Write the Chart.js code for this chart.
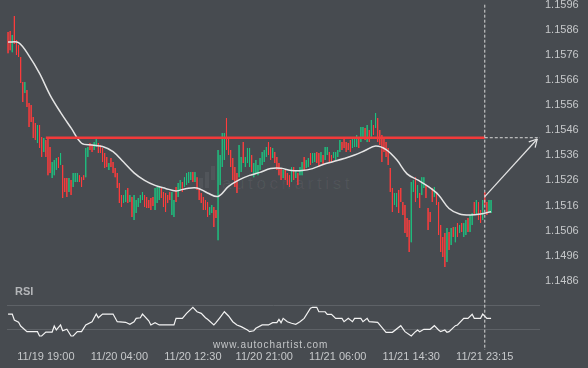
<!DOCTYPE html>
<html>
<head>
<meta charset="utf-8">
<script src="https://cdn.jsdelivr.net/npm/chart.js@4.4.0/dist/chart.umd.min.js"></script>
<style>
    html, body { margin: 0; padding: 0; background: #474b50; }
    #wrap { position: relative; width: 588px; height: 368px; overflow: hidden; }
    #chart { position: absolute; left: 0; top: 0; }
    .txt { position: absolute; font-family: "Liberation Sans", Arial, sans-serif; white-space: nowrap; }
    #mark { left: 222px; top: 174px; font-size: 17px; letter-spacing: 3.6px; color: rgba(255,255,255,0.06); }
    .logo { position: absolute; width: 4px; background: rgba(255,255,255,0.06); }
    #rsiTitle { left: 15px; top: 285px; font-size: 11px; font-weight: bold; color: #b4b6b9; }
    #site { left: 213px; top: 339px; font-size: 10px; letter-spacing: 0.9px; color: #c4c6c8; }
</style>
</head>
<body>
<div id="wrap">
    <div class="logo" style="left:199px; top:178px; height:10px;"></div>
    <div class="logo" style="left:205px; top:172px; height:16px;"></div>
    <div class="logo" style="left:211px; top:166px; height:14px;"></div>
    <div class="txt" id="mark">autochartist</div>
    <canvas id="chart" width="588" height="368"></canvas>
    <div class="txt" id="rsiTitle">RSI</div>
    <div class="txt" id="site">www.autochartist.com</div>
</div>
<script>
const BULL = '#1fc07f';
const BEAR = '#ff3d3d';
const LEVEL = '#f23a3a';
const LINE = '#e4e4e4';
const TEXT = '#c6c8ca';
const FONT = { family: "'Liberation Sans', Arial, sans-serif", size: 11 };

// x axis: candle index, one candle per 15 minutes
const xTickIdx    = [18, 53, 88, 122, 157, 192, 227];
const xTickLabels = ['11/19 19:00', '11/20 04:00', '11/20 12:30', '11/20 21:00', '11/21 06:00', '11/21 14:30', '11/21 23:15'];
const priceTicks  = [1.1486, 1.1496, 1.1506, 1.1516, 1.1526, 1.1536, 1.1546, 1.1556, 1.1566, 1.1576, 1.1586, 1.1596];
const rsiTicks    = [40, 60];

const X_MIN = -0.5, X_MAX = 253.3;
const PRICE_MIN = 1.145843, PRICE_MAX = 1.159787;
const RSI_MIN = 23.33, RSI_MAX = 315;

// [open, high, low, close]
const candles = [
    [1.15851,1.15851,1.15767,1.15767],[1.15855,1.15855,1.15779,1.15779],[1.15771,1.15839,1.15771,1.15839],[1.15915,1.15915,1.15803,1.15803],[1.15819,1.15819,1.15760,1.15760],
    [1.15799,1.15799,1.15752,1.15752],[1.15752,1.15752,1.15648,1.15648],[1.15652,1.15652,1.15572,1.15572],[1.15608,1.15652,1.15608,1.15652],[1.15620,1.15620,1.15552,1.15552],
    [1.15568,1.15568,1.15473,1.15473],[1.15560,1.15560,1.15493,1.15493],[1.15513,1.15513,1.15429,1.15429],[1.15489,1.15489,1.15421,1.15421],[1.15409,1.15481,1.15409,1.15481],
    [1.15481,1.15481,1.15389,1.15389],[1.15433,1.15433,1.15353,1.15353],[1.15373,1.15429,1.15373,1.15429],[1.15421,1.15421,1.15353,1.15353],[1.15429,1.15429,1.15281,1.15281],
    [1.15393,1.15393,1.15289,1.15289],[1.15270,1.15333,1.15270,1.15333],[1.15281,1.15341,1.15281,1.15341],[1.15301,1.15349,1.15301,1.15349],[1.15353,1.15353,1.15309,1.15309],
    [1.15321,1.15369,1.15321,1.15369],[1.15321,1.15321,1.15190,1.15190],[1.15270,1.15270,1.15214,1.15214],[1.15270,1.15270,1.15194,1.15194],[1.15214,1.15270,1.15214,1.15270],
    [1.15262,1.15262,1.15202,1.15202],[1.15234,1.15289,1.15234,1.15289],[1.15254,1.15289,1.15254,1.15289],[1.15254,1.15289,1.15254,1.15289],[1.15281,1.15281,1.15254,1.15254],
    [1.15273,1.15273,1.15234,1.15234],[1.15281,1.15281,1.15262,1.15262],[1.15273,1.15389,1.15273,1.15389],[1.15353,1.15393,1.15353,1.15393],[1.15409,1.15409,1.15381,1.15381],
    [1.15401,1.15401,1.15373,1.15373],[1.15381,1.15413,1.15381,1.15413],[1.15393,1.15429,1.15393,1.15429],[1.15409,1.15409,1.15369,1.15369],[1.15401,1.15401,1.15369,1.15369],
    [1.15389,1.15389,1.15333,1.15333],[1.15369,1.15369,1.15309,1.15309],[1.15353,1.15353,1.15313,1.15313],[1.15301,1.15329,1.15301,1.15329],[1.15349,1.15349,1.15313,1.15313],
    [1.15333,1.15333,1.15289,1.15289],[1.15309,1.15309,1.15273,1.15273],[1.15289,1.15289,1.15230,1.15230],[1.15250,1.15250,1.15170,1.15170],[1.15202,1.15202,1.15154,1.15154],
    [1.15170,1.15202,1.15170,1.15202],[1.15174,1.15222,1.15174,1.15222],[1.15230,1.15230,1.15170,1.15170],[1.15174,1.15202,1.15174,1.15202],[1.15194,1.15194,1.15114,1.15114],
    [1.15102,1.15202,1.15102,1.15202],[1.15130,1.15182,1.15130,1.15182],[1.15154,1.15190,1.15154,1.15190],[1.15170,1.15202,1.15170,1.15202],[1.15182,1.15214,1.15182,1.15214],
    [1.15202,1.15202,1.15154,1.15154],[1.15194,1.15194,1.15150,1.15150],[1.15182,1.15182,1.15150,1.15150],[1.15190,1.15190,1.15142,1.15142],[1.15194,1.15194,1.15158,1.15158],
    [1.15142,1.15230,1.15142,1.15230],[1.15170,1.15234,1.15170,1.15234],[1.15182,1.15234,1.15182,1.15234],[1.15230,1.15230,1.15190,1.15190],[1.15214,1.15214,1.15154,1.15154],
    [1.15210,1.15210,1.15134,1.15134],[1.15202,1.15202,1.15170,1.15170],[1.15214,1.15214,1.15182,1.15182],[1.15122,1.15214,1.15122,1.15214],[1.15114,1.15182,1.15114,1.15182],
    [1.15234,1.15234,1.15174,1.15174],[1.15194,1.15250,1.15194,1.15250],[1.15222,1.15262,1.15222,1.15262],[1.15254,1.15254,1.15214,1.15214],[1.15234,1.15273,1.15234,1.15273],
    [1.15242,1.15289,1.15242,1.15289],[1.15250,1.15293,1.15250,1.15293],[1.15262,1.15293,1.15262,1.15293],[1.15293,1.15293,1.15254,1.15254],[1.15254,1.15293,1.15254,1.15293],
    [1.15273,1.15273,1.15222,1.15222],[1.15230,1.15230,1.15182,1.15182],[1.15210,1.15210,1.15170,1.15170],[1.15194,1.15194,1.15142,1.15142],[1.15182,1.15182,1.15142,1.15142],
    [1.15174,1.15174,1.15114,1.15114],[1.15122,1.15154,1.15122,1.15154],[1.15130,1.15162,1.15130,1.15162],[1.15154,1.15154,1.15074,1.15074],[1.15142,1.15142,1.15110,1.15110],
    [1.15022,1.15381,1.15022,1.15381],[1.15242,1.15361,1.15242,1.15361],[1.15313,1.15449,1.15313,1.15449],[1.15341,1.15449,1.15341,1.15449],[1.15509,1.15509,1.15381,1.15381],
    [1.15429,1.15429,1.15361,1.15361],[1.15381,1.15381,1.15313,1.15313],[1.15349,1.15349,1.15262,1.15262],[1.15313,1.15313,1.15234,1.15234],[1.15289,1.15289,1.15210,1.15210],
    [1.15273,1.15401,1.15273,1.15401],[1.15293,1.15353,1.15293,1.15353],[1.15413,1.15413,1.15329,1.15329],[1.15313,1.15353,1.15313,1.15353],[1.15329,1.15389,1.15329,1.15389],
    [1.15313,1.15389,1.15313,1.15389],[1.15361,1.15361,1.15293,1.15293],[1.15273,1.15329,1.15273,1.15329],[1.15289,1.15341,1.15289,1.15341],[1.15281,1.15321,1.15281,1.15321],
    [1.15301,1.15349,1.15301,1.15349],[1.15321,1.15373,1.15321,1.15373],[1.15333,1.15381,1.15333,1.15381],[1.15353,1.15393,1.15353,1.15393],[1.15413,1.15413,1.15361,1.15361],
    [1.15393,1.15393,1.15341,1.15341],[1.15349,1.15389,1.15349,1.15389],[1.15373,1.15373,1.15329,1.15329],[1.15353,1.15353,1.15301,1.15301],[1.15329,1.15329,1.15281,1.15281],
    [1.15309,1.15309,1.15262,1.15262],[1.15270,1.15301,1.15270,1.15301],[1.15301,1.15301,1.15262,1.15262],[1.15289,1.15289,1.15242,1.15242],[1.15281,1.15281,1.15234,1.15234],
    [1.15254,1.15313,1.15254,1.15313],[1.15313,1.15313,1.15262,1.15262],[1.15270,1.15301,1.15270,1.15301],[1.15289,1.15289,1.15242,1.15242],[1.15281,1.15313,1.15281,1.15313],
    [1.15281,1.15333,1.15281,1.15333],[1.15353,1.15353,1.15301,1.15301],[1.15309,1.15341,1.15309,1.15341],[1.15313,1.15349,1.15313,1.15349],[1.15369,1.15369,1.15321,1.15321],
    [1.15329,1.15369,1.15329,1.15369],[1.15333,1.15369,1.15333,1.15369],[1.15373,1.15373,1.15329,1.15329],[1.15369,1.15369,1.15313,1.15313],[1.15333,1.15373,1.15333,1.15373],
    [1.15361,1.15361,1.15321,1.15321],[1.15341,1.15393,1.15341,1.15393],[1.15361,1.15393,1.15361,1.15393],[1.15373,1.15373,1.15329,1.15329],[1.15361,1.15361,1.15333,1.15333],
    [1.15349,1.15373,1.15349,1.15373],[1.15341,1.15373,1.15341,1.15373],[1.15353,1.15381,1.15353,1.15381],[1.15373,1.15421,1.15373,1.15421],[1.15413,1.15413,1.15381,1.15381],
    [1.15429,1.15429,1.15389,1.15389],[1.15413,1.15413,1.15373,1.15373],[1.15409,1.15409,1.15381,1.15381],[1.15421,1.15421,1.15373,1.15373],[1.15389,1.15429,1.15389,1.15429],
    [1.15393,1.15429,1.15393,1.15429],[1.15393,1.15441,1.15393,1.15441],[1.15429,1.15429,1.15389,1.15389],[1.15413,1.15473,1.15413,1.15473],[1.15429,1.15473,1.15429,1.15473],
    [1.15469,1.15469,1.15421,1.15421],[1.15413,1.15481,1.15413,1.15481],[1.15461,1.15461,1.15413,1.15413],[1.15429,1.15501,1.15429,1.15501],[1.15481,1.15481,1.15441,1.15441],
    [1.15469,1.15529,1.15469,1.15529],[1.15509,1.15509,1.15413,1.15413],[1.15461,1.15461,1.15401,1.15401],[1.15441,1.15441,1.15333,1.15333],[1.15429,1.15429,1.15373,1.15373],
    [1.15413,1.15413,1.15353,1.15353],[1.15389,1.15389,1.15321,1.15321],[1.15309,1.15309,1.15214,1.15214],[1.15230,1.15230,1.15134,1.15134],[1.15162,1.15210,1.15162,1.15210],
    [1.15154,1.15210,1.15154,1.15210],[1.15222,1.15222,1.15130,1.15130],[1.15230,1.15230,1.15174,1.15174],[1.15174,1.15174,1.15122,1.15122],[1.15162,1.15162,1.15050,1.15050],
    [1.15110,1.15110,1.15034,1.15034],[1.15102,1.15102,1.14975,1.14975],[1.15014,1.15254,1.15014,1.15254],[1.15214,1.15262,1.15214,1.15262],[1.15273,1.15273,1.15174,1.15174],
    [1.15190,1.15242,1.15190,1.15242],[1.15210,1.15210,1.15150,1.15150],[1.15202,1.15273,1.15202,1.15273],[1.15230,1.15273,1.15230,1.15273],[1.15242,1.15242,1.15190,1.15190],
    [1.15150,1.15150,1.15062,1.15062],[1.15134,1.15134,1.15094,1.15094],[1.15230,1.15230,1.15174,1.15174],[1.15194,1.15234,1.15194,1.15234],[1.15214,1.15214,1.15162,1.15162],
    [1.15174,1.15174,1.15042,1.15042],[1.15082,1.15082,1.14975,1.14975],[1.15034,1.15034,1.14955,1.14955],[1.15050,1.15050,1.14915,1.14915],[1.14935,1.15070,1.14935,1.15070],
    [1.15054,1.15054,1.14983,1.14983],[1.15003,1.15070,1.15003,1.15070],[1.15074,1.15074,1.15034,1.15034],[1.15014,1.15074,1.15014,1.15074],[1.15090,1.15090,1.15034,1.15034],
    [1.15050,1.15082,1.15050,1.15082],[1.15090,1.15090,1.15054,1.15054],[1.15034,1.15090,1.15034,1.15090],[1.15042,1.15102,1.15042,1.15102],[1.15110,1.15110,1.15054,1.15054],
    [1.15054,1.15122,1.15054,1.15122],[1.15082,1.15130,1.15082,1.15130],[1.15174,1.15174,1.15122,1.15122],[1.15122,1.15182,1.15122,1.15182],[1.15174,1.15174,1.15102,1.15102],
    [1.15142,1.15142,1.15090,1.15090],[1.15102,1.15182,1.15102,1.15182],[1.15214,1.15214,1.15162,1.15162],[1.15174,1.15174,1.15122,1.15122],[1.15134,1.15182,1.15134,1.15182],
    [1.15130,1.15182,1.15130,1.15182],
];

// moving average, sampled every 5 candles
const maIdx = [0, 5, 10, 15, 20, 25, 30, 35, 40, 45, 50, 55, 60, 65, 70, 75, 80, 85, 90, 95, 100, 105, 110, 115,
               120, 125, 130, 135, 140, 145, 150, 155, 160, 165, 170, 175, 180, 185, 190, 195, 200, 205, 210, 215, 220, 225, 230];
const maVal = [1.15811, 1.15809, 1.15756, 1.15686, 1.15600, 1.15531, 1.15469, 1.15408, 1.15401, 1.15395, 1.15375, 1.15333,
               1.15290, 1.15260, 1.15240, 1.15228, 1.15218, 1.15228, 1.15230, 1.15210, 1.15196, 1.15236, 1.15262, 1.15280,
               1.15292, 1.15307, 1.15308, 1.15299, 1.15299, 1.15307, 1.15323, 1.15335, 1.15347, 1.15361, 1.15379, 1.15397,
               1.15383, 1.15343, 1.15286, 1.15262, 1.15236, 1.15202, 1.15148, 1.15126, 1.15122, 1.15126, 1.15135];

const rsiIdx = [0, 2, 3, 5, 6, 9, 14, 15, 16, 18, 21, 22, 23, 25, 26, 28, 30, 31, 33, 35, 37, 40, 42, 43, 45, 50, 52, 56, 58,
                60, 61, 63, 64, 67, 68, 70, 72, 79, 80, 83, 85, 88, 90, 92, 94, 95, 98, 99, 101, 103, 105, 107, 109, 111,
                114, 115, 117, 118, 121, 124, 126, 128, 129, 130, 131, 133, 135, 137, 139, 141, 144, 145, 147, 148, 151,
                152, 154, 156, 159, 160, 162, 164, 165, 168, 169, 171, 172, 176, 178, 180, 183, 187, 189, 192, 194, 195,
                196, 198, 201, 203, 205, 206, 208, 209, 210, 213, 214, 217, 219, 221, 222, 225, 226, 228, 230];
const rsiVal = [53.3, 53.3, 48.3, 46.4, 43.3, 38.6, 38.6, 35, 35, 38.3, 38.3, 43.3, 40, 44.2, 39.4, 40.6, 35, 35, 38.6, 38.6,
                44.2, 46.9, 53.3, 50.2, 53.3, 53.3, 46.9, 46.4, 44.7, 46.9, 49.7, 50.2, 53.3, 47.7, 44.2, 46.1, 44.2, 44.2,
                49.7, 49.7, 53.9, 58.9, 55.2, 53.9, 50.2, 48.9, 44.2, 46.1, 50.6, 55.2, 51.7, 46.9, 44.2, 42.8, 40, 38.6,
                39.4, 41.4, 44.2, 44.2, 46.1, 46.1, 48.9, 46.1, 49.7, 46.9, 45.6, 44.7, 46.9, 49.7, 58.1, 58.9, 58.9, 55.2,
                55.2, 53.1, 53.1, 49.7, 49.7, 46.9, 49.7, 46.9, 49.7, 49.7, 46.9, 49.7, 46.9, 46.4, 42.2, 38.1, 38.1, 43.6,
                38.6, 35, 38.6, 40, 38.6, 40.6, 40.6, 43.6, 40, 38.6, 40, 38.1, 38.6, 43.6, 44.2, 49.7, 49.7, 53.1, 49.7,
                49.7, 53.3, 49.7, 49.7];

// resistance level and the projected move
const levelPrice = 1.1543;
const levelFrom = 18, levelTo = 227;
const signalIdx = 227;
const arrowFrom = { x: 227, y: 1.15195 };
const arrowTo   = { x: 252, y: 1.15425 };

const candleColors = candles.map(c => c[3] >= c[0] ? BULL : BEAR);

const arrowHead = {
    id: 'arrowHead',
    afterDatasetsDraw(chart) {
        const meta = chart.getDatasetMeta(chart.data.datasets.findIndex(d => d.label === 'arrow'));
        const [a, b] = meta.data;
        const ang = Math.atan2(b.y - a.y, b.x - a.x);
        const c = chart.ctx;
        c.save();
        c.strokeStyle = LINE;
        c.lineWidth = 1.2;
        c.beginPath();
        [-0.5, 0.5].forEach(d => {
            c.moveTo(b.x, b.y);
            c.lineTo(b.x - 9 * Math.cos(ang + d), b.y - 9 * Math.sin(ang + d));
        });
        c.stroke();
        c.restore();
    },
};

function fixedTicks(values) {
    return scale => { scale.ticks = values.map(v => ({ value: v })); };
}

new Chart(document.getElementById('chart').getContext('2d'), {
    type: 'line',
    data: {
        datasets: [
            {
                type: 'bar', label: 'wick', order: 10, grouped: false, yAxisID: 'y',
                data: candles.map((c, i) => ({ x: i, y: [c[2], c[1]] })),
                backgroundColor: candleColors, barThickness: 1, inflateAmount: 0, borderWidth: 0,
            },
            {
                type: 'bar', label: 'body', order: 9, grouped: false, yAxisID: 'y',
                data: candles.map((c, i) => ({ x: i, y: [Math.min(c[0], c[3]), Math.max(c[0], c[3])] })),
                backgroundColor: candleColors, barThickness: 1, inflateAmount: 0, borderWidth: 0,
            },
            {
                label: 'ma', order: 5, yAxisID: 'y',
                data: maIdx.map((x, i) => ({ x, y: maVal[i] })),
                borderColor: LINE, borderWidth: 1.5, pointRadius: 0, tension: 0.35,
            },
            {
                label: 'level', order: 4, yAxisID: 'y',
                data: [{ x: levelFrom, y: levelPrice }, { x: levelTo, y: levelPrice }],
                borderColor: LEVEL, borderWidth: 2.5, pointRadius: 0,
            },
            {
                label: 'levelExt', order: 3, yAxisID: 'y',
                data: [{ x: levelTo, y: levelPrice }, { x: X_MAX, y: levelPrice }],
                borderColor: '#d8d8d8', borderWidth: 1, borderDash: [3, 2], pointRadius: 0,
            },
            {
                label: 'signal', order: 3, yAxisID: 'y',
                data: [{ x: signalIdx, y: priceTicks[priceTicks.length - 1] }, { x: signalIdx, y: PRICE_MIN }],
                borderColor: '#d8d8d8', borderWidth: 1, borderDash: [3, 2], pointRadius: 0,
            },
            {
                label: 'arrow', order: 2, yAxisID: 'y',
                data: [arrowFrom, arrowTo],
                borderColor: LINE, borderWidth: 1.2, pointRadius: 0,
            },
            {
                label: 'rsi', order: 1, yAxisID: 'rsi',
                data: rsiIdx.map((x, i) => ({ x, y: rsiVal[i] })),
                borderColor: '#f2f2f2', borderWidth: 1.2, pointRadius: 0, tension: 0,
            },
        ],
    },
    options: {
        responsive: false,
        animation: false,
        devicePixelRatio: 1,
        layout: { padding: { left: 7, top: 0, right: 0, bottom: 0 } },
        plugins: { legend: { display: false }, tooltip: { enabled: false } },
        scales: {
            x: {
                type: 'linear', min: X_MIN, max: X_MAX, offset: false,
                grid: { display: false, drawTicks: false, offset: false }, border: { display: false },
                ticks: {
                    color: TEXT, font: FONT, padding: 0, maxRotation: 0, autoSkip: false,
                    callback: v => { const k = xTickIdx.indexOf(v); return k < 0 ? '' : xTickLabels[k]; },
                },
                afterBuildTicks: fixedTicks(xTickIdx),
                afterFit: s => { s.height = 18; s.paddingLeft = 0; s.paddingRight = 0; },
            },
            y: {
                type: 'linear', position: 'right', weight: 1, min: PRICE_MIN, max: PRICE_MAX,
                grid: { display: false, drawTicks: false }, border: { display: false },
                ticks: { color: TEXT, font: FONT, padding: 5, callback: v => v.toFixed(4) },
                afterBuildTicks: fixedTicks(priceTicks),
                afterFit: s => { s.width = 48; s.paddingTop = 0; s.paddingBottom = 0; },
            },
            rsi: {
                type: 'linear', position: 'right', weight: 0, min: RSI_MIN, max: RSI_MAX,
                grid: { color: '#5e6267', drawTicks: false }, border: { display: false },
                ticks: { color: TEXT, font: FONT, padding: 5 },
                afterBuildTicks: fixedTicks(rsiTicks),
                afterFit: s => { s.width = 0; s.paddingTop = 0; s.paddingBottom = 0; },
            },
        },
    },
    plugins: [arrowHead],
});
</script>
</body>
</html>
